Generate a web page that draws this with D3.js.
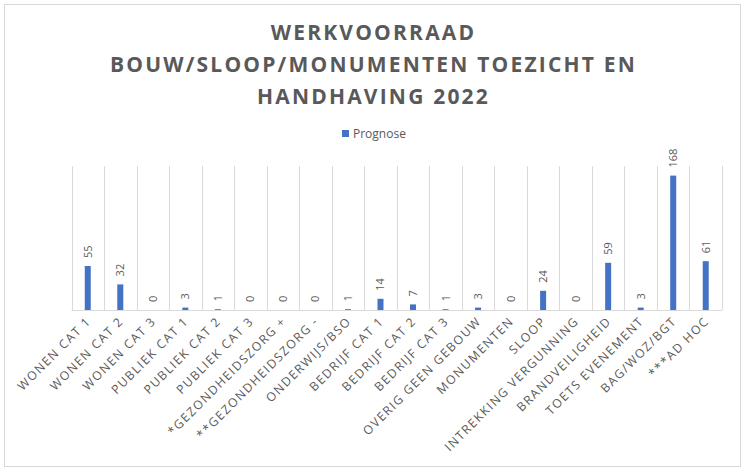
<!DOCTYPE html>
<html><head><meta charset="utf-8">
<script src="https://cdn.jsdelivr.net/npm/d3@7"></script>
<style>body{margin:0;background:#fff}svg{display:block}text{font-family:"Open Sans",sans-serif}</style>
</head><body><svg id="c" width="747" height="470"></svg>
<script>
const categories = ["WONEN CAT 1","WONEN CAT 2","WONEN CAT 3","PUBLIEK CAT 1","PUBLIEK CAT 2","PUBLIEK CAT 3","*GEZONDHEIDSZORG +","**GEZONDHEIDSZORG -","ONDERWIJS/BSO","BEDRIJF CAT 1","BEDRIJF CAT 2","BEDRIJF CAT 3","OVERIG GEEN GEBOUW","MONUMENTEN","SLOOP","INTREKKING VERGUNNING","BRANDVEILIGHEID","TOETS EVENEMENT","BAG/WOZ/BGT","***AD HOC"];
const prognose = [55,32,0,3,1,0,0,0,1,14,7,1,3,0,24,0,59,3,168,61];
const titleLines = ["WERKVOORRAAD","BOUW/SLOOP/MONUMENTEN TOEZICHT EN","HANDHAVING 2022"];
const seriesName = "Prognose";

const svg = d3.select("#c");
const grey = "#595959", grid = "#d9d9d9", blue = "#4472c4";
svg.append("rect").attr("x",4.5).attr("y",4.5).attr("width",736).attr("height",462).attr("fill","#fff").attr("stroke",grid);

svg.selectAll("text.title").data(titleLines).join("text").attr("class","title")
  .attr("x",373.5).attr("y",(d,i)=>40+i*32).attr("text-anchor","middle")
  .attr("font-size",21).attr("font-weight","bold").attr("letter-spacing",2.2).attr("fill",grey).text(d=>d);

const lg = svg.append("g");
lg.append("rect").attr("x",342).attr("y",130).attr("width",7).attr("height",7).attr("fill",blue);
lg.append("text").attr("x",353).attr("y",138).attr("font-size",12).attr("fill",grey).text(seriesName);

const x = d3.scaleBand().domain(categories).range([71.5,722]);
const y = d3.scaleLinear().domain([0,180]).range([310,166]);

const bounds = categories.map(c=>x(c)).concat([x.range()[1]]);
svg.selectAll("line.g").data(bounds).join("line").attr("class","g")
  .attr("x1",d=>Math.round(d)+0.5).attr("x2",d=>Math.round(d)+0.5).attr("y1",y(180)).attr("y2",y(0)).attr("stroke",grid);
svg.append("line").attr("x1",x.range()[0]).attr("x2",x.range()[1]).attr("y1",310.5).attr("y2",310.5).attr("stroke",grid);

const bw = 6;
svg.selectAll("rect.bar").data(categories).join("rect").attr("class","bar")
  .attr("x",c=>x(c)+x.bandwidth()/2-bw/2).attr("width",bw)
  .attr("y",(c,i)=>y(prognose[i])).attr("height",(c,i)=>y(0)-y(prognose[i])).attr("fill",blue);

svg.selectAll("text.dl").data(categories).join("text").attr("class","dl")
  .attr("transform",(c,i)=>`translate(${x(c)+x.bandwidth()/2+4},${y(prognose[i])-8}) rotate(-90)`)
  .attr("font-size",11).attr("fill",grey).text((c,i)=>prognose[i]);

svg.selectAll("text.xl").data(categories).join("text").attr("class","xl")
  .attr("transform",c=>`translate(${x(c)+x.bandwidth()/2+4},${322}) rotate(-45)`)
  .attr("text-anchor","end").attr("font-size",12.2).attr("letter-spacing",1.5).attr("fill",grey).text(c=>c);
</script></body></html>
